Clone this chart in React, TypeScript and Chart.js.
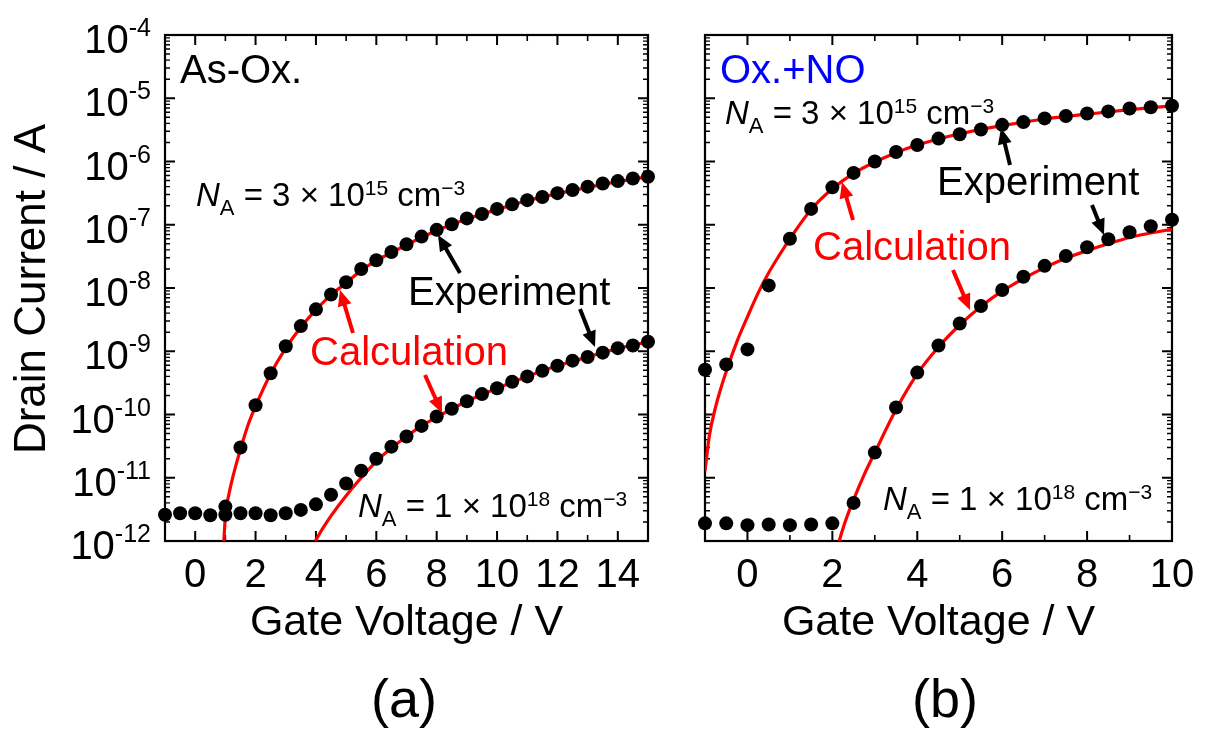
import React, { useEffect, useRef } from "react";
import { Chart, registerables } from "chart.js";

Chart.register(...registerables);

const FONT = '"Liberation Sans", Arial, Helvetica, sans-serif';

// ---------- Data (panel a: As-Ox.) ----------
const A_EXP_HI_V = [1, 1.5, 2, 2.5, 3, 3.5, 4, 4.5, 5, 5.5, 6, 6.5, 7, 7.5, 8, 8.5, 9, 9.5, 10, 10.5, 11, 11.5, 12, 12.5, 13, 13.5, 14, 14.5, 15];
const A_EXP_HI_I = [3.5e-12, 3.0e-11, 1.4e-10, 4.5e-10, 1.2e-9, 2.5e-9, 4.6e-9, 7.9e-9, 1.23e-8, 2.0e-8, 2.75e-8, 3.7e-8, 4.9e-8, 6.5e-8, 8.3e-8, 1.02e-7, 1.26e-7, 1.48e-7, 1.78e-7, 2.1e-7, 2.45e-7, 2.75e-7, 3.16e-7, 3.55e-7, 4.0e-7, 4.5e-7, 4.9e-7, 5.4e-7, 5.75e-7];

const A_EXP_LO_V = [-1, -0.5, 0, 0.5, 1, 1.5, 2, 2.5, 3, 3.5, 4, 4.5, 5, 5.5, 6, 6.5, 7, 7.5, 8, 8.5, 9, 9.5, 10, 10.5, 11, 11.5, 12, 12.5, 13, 13.5, 14, 14.5, 15];
const A_EXP_LO_I = [2.6e-12, 2.75e-12, 2.75e-12, 2.55e-12, 2.6e-12, 2.75e-12, 2.75e-12, 2.55e-12, 2.75e-12, 3.1e-12, 3.8e-12, 5.4e-12, 8.1e-12, 1.29e-11, 2.0e-11, 3.1e-11, 4.5e-11, 6.6e-11, 9.3e-11, 1.23e-10, 1.62e-10, 2.1e-10, 2.6e-10, 3.3e-10, 4.0e-10, 4.9e-10, 5.9e-10, 7.1e-10, 8.1e-10, 9.5e-10, 1.12e-9, 1.23e-9, 1.41e-9];

const A_CAL_HI_V = [0.95, 0.98, 1.02, 1.1, 1.2, 1.35, 1.5, 1.75, 2, 2.5, 3, 3.5, 4, 4.5, 5, 5.5, 6, 7, 8, 9, 10, 11, 12, 13, 14, 15];
const A_CAL_HI_I = [1e-12, 1.78e-12, 3.16e-12, 5.0e-12, 8.3e-12, 1.58e-11, 2.8e-11, 6.8e-11, 1.35e-10, 4.4e-10, 1.12e-9, 2.4e-9, 4.5e-9, 7.8e-9, 1.2e-8, 1.9e-8, 2.7e-8, 4.8e-8, 8.1e-8, 1.23e-7, 1.74e-7, 2.4e-7, 3.1e-7, 3.9e-7, 4.8e-7, 5.75e-7];

const A_CAL_LO_V = [3.98, 4.2, 4.5, 5, 5.5, 6, 6.5, 7, 7.5, 8, 9, 10, 11, 12, 13, 14, 15];
const A_CAL_LO_I = [1e-12, 1.51e-12, 2.5e-12, 5.2e-12, 1.0e-11, 1.82e-11, 2.95e-11, 4.5e-11, 6.6e-11, 9.1e-11, 1.62e-10, 2.6e-10, 4.0e-10, 5.9e-10, 8.1e-10, 1.1e-9, 1.41e-9];

// ---------- Data (panel b: Ox.+NO) ----------
const B_EXP_HI_V = [-1, -0.5, 0, 0.5, 1, 1.5, 2, 2.5, 3, 3.5, 4, 4.5, 5, 5.5, 6, 6.5, 7, 7.5, 8, 8.5, 9, 9.5, 10];
const B_EXP_HI_I = [5.1e-10, 6.2e-10, 1.07e-9, 1.1e-8, 6.0e-8, 1.78e-7, 3.9e-7, 6.6e-7, 1.0e-6, 1.41e-6, 1.82e-6, 2.3e-6, 2.7e-6, 3.2e-6, 3.8e-6, 4.2e-6, 4.8e-6, 5.25e-6, 5.75e-6, 6.2e-6, 6.9e-6, 7.2e-6, 7.6e-6];

const B_EXP_LO_V = [-1, -0.5, 0, 0.5, 1, 1.5, 2, 2.5, 3, 3.5, 4, 4.5, 5, 5.5, 6, 6.5, 7, 7.5, 8, 8.5, 9, 9.5, 10];
const B_EXP_LO_I = [1.9e-12, 1.9e-12, 1.78e-12, 1.82e-12, 1.78e-12, 1.82e-12, 1.9e-12, 4.0e-12, 2.5e-11, 1.29e-10, 4.6e-10, 1.23e-9, 2.75e-9, 5.2e-9, 9.3e-9, 1.51e-8, 2.24e-8, 3.2e-8, 4.4e-8, 5.9e-8, 7.6e-8, 9.5e-8, 1.2e-7];

const B_CAL_HI_V = [-1, -0.9, -0.75, -0.5, -0.25, 0, 0.25, 0.5, 0.75, 1, 1.5, 2, 2.5, 3, 3.5, 4, 5, 6, 7, 8, 9, 10];
const B_CAL_HI_I = [1.26e-11, 4.5e-11, 1.32e-10, 4.8e-10, 1.41e-9, 3.5e-9, 8.3e-9, 1.74e-8, 3.3e-8, 6.0e-8, 1.74e-7, 3.7e-7, 6.5e-7, 9.8e-7, 1.38e-6, 1.82e-6, 2.75e-6, 3.7e-6, 4.7e-6, 5.6e-6, 6.6e-6, 7.6e-6];

const B_CAL_LO_V = [2.16, 2.3, 2.5, 2.75, 3, 3.5, 4, 4.5, 5, 5.5, 6, 6.5, 7, 7.5, 8, 8.5, 9, 9.5, 10];
const B_CAL_LO_I = [1e-12, 2.0e-12, 4.5e-12, 1.12e-11, 2.5e-11, 1.2e-10, 4.4e-10, 1.17e-9, 2.6e-9, 5.1e-9, 8.9e-9, 1.41e-8, 2.1e-8, 2.95e-8, 3.9e-8, 5.0e-8, 6.3e-8, 7.4e-8, 8.5e-8];

// ---------- Tick labels ----------
const A_X_TICKS = [0, 2, 4, 6, 8, 10, 12, 14];
const B_X_TICKS = [0, 2, 4, 6, 8, 10];
const Y_TICK_EXPONENTS = [-4, -5, -6, -7, -8, -9, -10, -11, -12];

type Seg = { t: string; size?: number; italic?: boolean; dy?: number };
type TextItem = { segs: Seg[]; x: number; y: number; size: number; color: string };
type ArrowItem = { x1: number; y1: number; x2: number; y2: number; color: string };

const NA = (mant: string, exp: string): Seg[] => [
  { t: "N", italic: true },
  { t: "A", size: 22, dy: 9 },
  { t: " = " + mant + " \u00d7 10" },
  { t: exp, size: 21, dy: -11 },
  { t: " cm" },
  { t: "\u22123", size: 21, dy: -11 },
];

interface PanelProps {
  offsetX: number;
  width: number;
  area: { left: number; right: number };
  xMin: number;
  xMax: number;
  xTicks: number[];
  yLabels: boolean;
  expHi: { v: number[]; i: number[] };
  expLo: { v: number[]; i: number[] };
  calHi: { v: number[]; i: number[] };
  calLo: { v: number[]; i: number[] };
  texts: TextItem[];
  arrows: ArrowItem[];
  tag: string;
  tagX: number;
}

const TOP = 35;
const BOTTOM = 541;
const H = 731;

function drawRich(ctx: CanvasRenderingContext2D, segs: Seg[], x: number, y: number, base: number, color: string, align: "left" | "right" | "center") {
  const fontOf = (s: Seg) => `${s.italic ? "italic " : ""}${s.size ?? base}px ${FONT}`;
  let total = 0;
  const ws = segs.map((s) => {
    ctx.font = fontOf(s);
    const w = ctx.measureText(s.t).width;
    total += w;
    return w;
  });
  let cx = align === "left" ? x : align === "right" ? x - total : x - total / 2;
  ctx.fillStyle = color;
  ctx.textAlign = "left";
  ctx.textBaseline = "alphabetic";
  segs.forEach((s, k) => {
    ctx.font = fontOf(s);
    ctx.fillText(s.t, cx, y + (s.dy ?? 0));
    cx += ws[k];
  });
}

function drawArrow(ctx: CanvasRenderingContext2D, a: ArrowItem, ox: number) {
  const x1 = a.x1 - ox, x2 = a.x2 - ox;
  const { y1, y2 } = a;
  const ang = Math.atan2(y2 - y1, x2 - x1);
  const hl = 16, hw = 7;
  const bx = x2 - hl * Math.cos(ang);
  const by = y2 - hl * Math.sin(ang);
  ctx.save();
  ctx.strokeStyle = a.color;
  ctx.lineWidth = 4;
  ctx.beginPath();
  ctx.moveTo(x1, y1);
  ctx.lineTo(bx + Math.cos(ang) * 2, by + Math.sin(ang) * 2);
  ctx.stroke();
  ctx.fillStyle = a.color;
  ctx.beginPath();
  ctx.moveTo(x2, y2);
  ctx.lineTo(bx + hw * Math.sin(ang), by - hw * Math.cos(ang));
  ctx.lineTo(bx - hw * Math.sin(ang), by + hw * Math.cos(ang));
  ctx.closePath();
  ctx.fill();
  ctx.restore();
}

function Panel(p: PanelProps) {
  const ref = useRef<HTMLCanvasElement | null>(null);
  useEffect(() => {
    if (!ref.current) return;
    const pts = (d: { v: number[]; i: number[] }) => d.v.map((v, k) => ({ x: v, y: d.i[k] }));
    const ox = p.offsetX;

    const framePlugin = {
      id: "frame" + p.tag,
      beforeDatasetsDraw(chart: any) {
        const ctx: CanvasRenderingContext2D = chart.ctx;
        const { left, right, top, bottom } = chart.chartArea;
        const xs = chart.scales.x;
        const ys = chart.scales.y;
        ctx.save();
        ctx.strokeStyle = "#000";
        // x ticks
        for (let v = Math.ceil(p.xMin); v <= p.xMax; v++) {
          if (v === p.xMin || v === p.xMax) continue;
          const px = xs.getPixelForValue(v);
          const len = v % 2 === 0 ? 10 : 6;
          ctx.lineWidth = v % 2 === 0 ? 2 : 1.6;
          ctx.beginPath();
          ctx.moveTo(px, bottom);
          ctx.lineTo(px, bottom - len);
          ctx.moveTo(px, top);
          ctx.lineTo(px, top + len);
          ctx.stroke();
        }
        // y ticks (log)
        for (let d = -12; d <= -4; d++) {
          for (let m = 1; m <= 9; m++) {
            if (d === -4 && m > 1) continue;
            const val = m * Math.pow(10, d);
            const py = ys.getPixelForValue(val);
            const len = m === 1 ? 10 : 5;
            ctx.lineWidth = m === 1 ? 2 : 1.4;
            ctx.beginPath();
            ctx.moveTo(left, py);
            ctx.lineTo(left + len, py);
            ctx.moveTo(right, py);
            ctx.lineTo(right - len, py);
            ctx.stroke();
          }
        }
        ctx.lineWidth = 2.2;
        ctx.strokeRect(left, top, right - left, bottom - top);
        ctx.restore();
      },
      afterDraw(chart: any) {
        const ctx: CanvasRenderingContext2D = chart.ctx;
        const { left, right } = chart.chartArea;
        const xs = chart.scales.x;
        const ys = chart.scales.y;
        ctx.save();
        // x tick labels
        ctx.font = `40px ${FONT}`;
        ctx.fillStyle = "#000";
        ctx.textAlign = "center";
        ctx.textBaseline = "alphabetic";
        p.xTicks.forEach((v) => {
          ctx.fillText(String(v), xs.getPixelForValue(v), 587);
        });
        // y tick labels
        if (p.yLabels) {
          Y_TICK_EXPONENTS.forEach((e) => {
            const py = ys.getPixelForValue(Math.pow(10, e));
            drawRich(ctx, [{ t: "10" }, { t: String(e), size: 25, dy: -17 }], 151, py + 18, 40, "#000", "right");
          });
          ctx.save();
          ctx.translate(45, 289);
          ctx.rotate(-Math.PI / 2);
          ctx.font = `44px ${FONT}`;
          ctx.fillStyle = "#000";
          ctx.textAlign = "center";
          ctx.textBaseline = "alphabetic";
          ctx.fillText("Drain Current / A", 0, 0);
          ctx.restore();
        }
        // x title & tag
        const cx = (left + right) / 2;
        ctx.font = `43px ${FONT}`;
        ctx.textAlign = "center";
        ctx.fillStyle = "#000";
        ctx.fillText("Gate Voltage / V", cx, 635);
        ctx.font = `54px ${FONT}`;
        ctx.fillText(p.tag, p.tagX - ox, 717);
        // annotations
        p.texts.forEach((t) => drawRich(ctx, t.segs, t.x - ox, t.y, t.size, t.color, "left"));
        p.arrows.forEach((a) => drawArrow(ctx, a, ox));
        ctx.restore();
      },
    };

    const chart = new Chart(ref.current, {
      type: "scatter",
      data: {
        datasets: [
          { data: pts(p.expHi), showLine: false, pointRadius: 7, pointBackgroundColor: "#000", pointBorderColor: "#000", pointBorderWidth: 0, clip: false, order: 0 } as any,
          { data: pts(p.expLo), showLine: false, pointRadius: 7, pointBackgroundColor: "#000", pointBorderColor: "#000", pointBorderWidth: 0, clip: false, order: 0 } as any,
          { data: pts(p.calHi), showLine: true, pointRadius: 0, borderColor: "#ff0000", borderWidth: 3.2, cubicInterpolationMode: "monotone", order: 1 } as any,
          { data: pts(p.calLo), showLine: true, pointRadius: 0, borderColor: "#ff0000", borderWidth: 3.2, cubicInterpolationMode: "monotone", order: 1 } as any,
        ],
      },
      options: {
        responsive: false,
        animation: false,
        events: [],
        layout: {
          padding: {
            left: p.area.left - ox,
            right: ox + p.width - p.area.right,
            top: TOP,
            bottom: H - BOTTOM,
          },
        },
        plugins: { legend: { display: false }, tooltip: { enabled: false } },
        scales: {
          x: { type: "linear", min: p.xMin, max: p.xMax, display: false },
          y: { type: "logarithmic", min: 1e-12, max: 1e-4, display: false },
        },
      },
      plugins: [framePlugin],
    });
    return () => chart.destroy();
  }, []);
  return (
    <canvas
      ref={ref}
      width={p.width}
      height={H}
      style={{ position: "absolute", left: p.offsetX, top: 0, width: p.width, height: H }}
    />
  );
}

export default function App() {
  const panelA: PanelProps = {
    offsetX: 0,
    width: 680,
    area: { left: 165, right: 648 },
    xMin: -1,
    xMax: 15,
    xTicks: A_X_TICKS,
    yLabels: true,
    expHi: { v: A_EXP_HI_V, i: A_EXP_HI_I },
    expLo: { v: A_EXP_LO_V, i: A_EXP_LO_I },
    calHi: { v: A_CAL_HI_V, i: A_CAL_HI_I },
    calLo: { v: A_CAL_LO_V, i: A_CAL_LO_I },
    texts: [
      { segs: [{ t: "As-Ox." }], x: 180, y: 83, size: 40, color: "#000" },
      { segs: NA("3", "15"), x: 196, y: 206, size: 33, color: "#000" },
      { segs: [{ t: "Experiment" }], x: 408, y: 305, size: 40, color: "#000" },
      { segs: [{ t: "Calculation" }], x: 310, y: 365, size: 40, color: "#ff0000" },
      { segs: NA("1", "18"), x: 358, y: 517, size: 33, color: "#000" },
    ],
    arrows: [
      { x1: 460, y1: 273, x2: 438, y2: 235, color: "#000" },
      { x1: 580, y1: 309, x2: 595, y2: 347, color: "#000" },
      { x1: 353, y1: 333, x2: 340, y2: 290, color: "#ff0000" },
      { x1: 425, y1: 375, x2: 442, y2: 413, color: "#ff0000" },
    ],
    tag: "(a)",
    tagX: 404,
  };
  const panelB: PanelProps = {
    offsetX: 680,
    width: 542,
    area: { left: 705, right: 1172 },
    xMin: -1,
    xMax: 10,
    xTicks: B_X_TICKS,
    yLabels: false,
    expHi: { v: B_EXP_HI_V, i: B_EXP_HI_I },
    expLo: { v: B_EXP_LO_V, i: B_EXP_LO_I },
    calHi: { v: B_CAL_HI_V, i: B_CAL_HI_I },
    calLo: { v: B_CAL_LO_V, i: B_CAL_LO_I },
    texts: [
      { segs: [{ t: "Ox.+NO" }], x: 720, y: 83, size: 40, color: "#0000ff" },
      { segs: NA("3", "15"), x: 725, y: 124, size: 33, color: "#000" },
      { segs: [{ t: "Experiment" }], x: 937, y: 195, size: 40, color: "#000" },
      { segs: [{ t: "Calculation" }], x: 813, y: 260, size: 40, color: "#ff0000" },
      { segs: NA("1", "18"), x: 883, y: 510, size: 33, color: "#000" },
    ],
    arrows: [
      { x1: 1010, y1: 165, x2: 1001, y2: 128, color: "#000" },
      { x1: 1092, y1: 205, x2: 1104, y2: 235, color: "#000" },
      { x1: 853, y1: 220, x2: 842, y2: 182, color: "#ff0000" },
      { x1: 953, y1: 270, x2: 970, y2: 310, color: "#ff0000" },
    ],
    tag: "(b)",
    tagX: 945,
  };
  return (
    <div style={{ position: "fixed", left: 0, top: 0, width: 1222, height: H, background: "#fff", overflow: "hidden" }}>
      <Panel {...panelA} />
      <Panel {...panelB} />
    </div>
  );
}
